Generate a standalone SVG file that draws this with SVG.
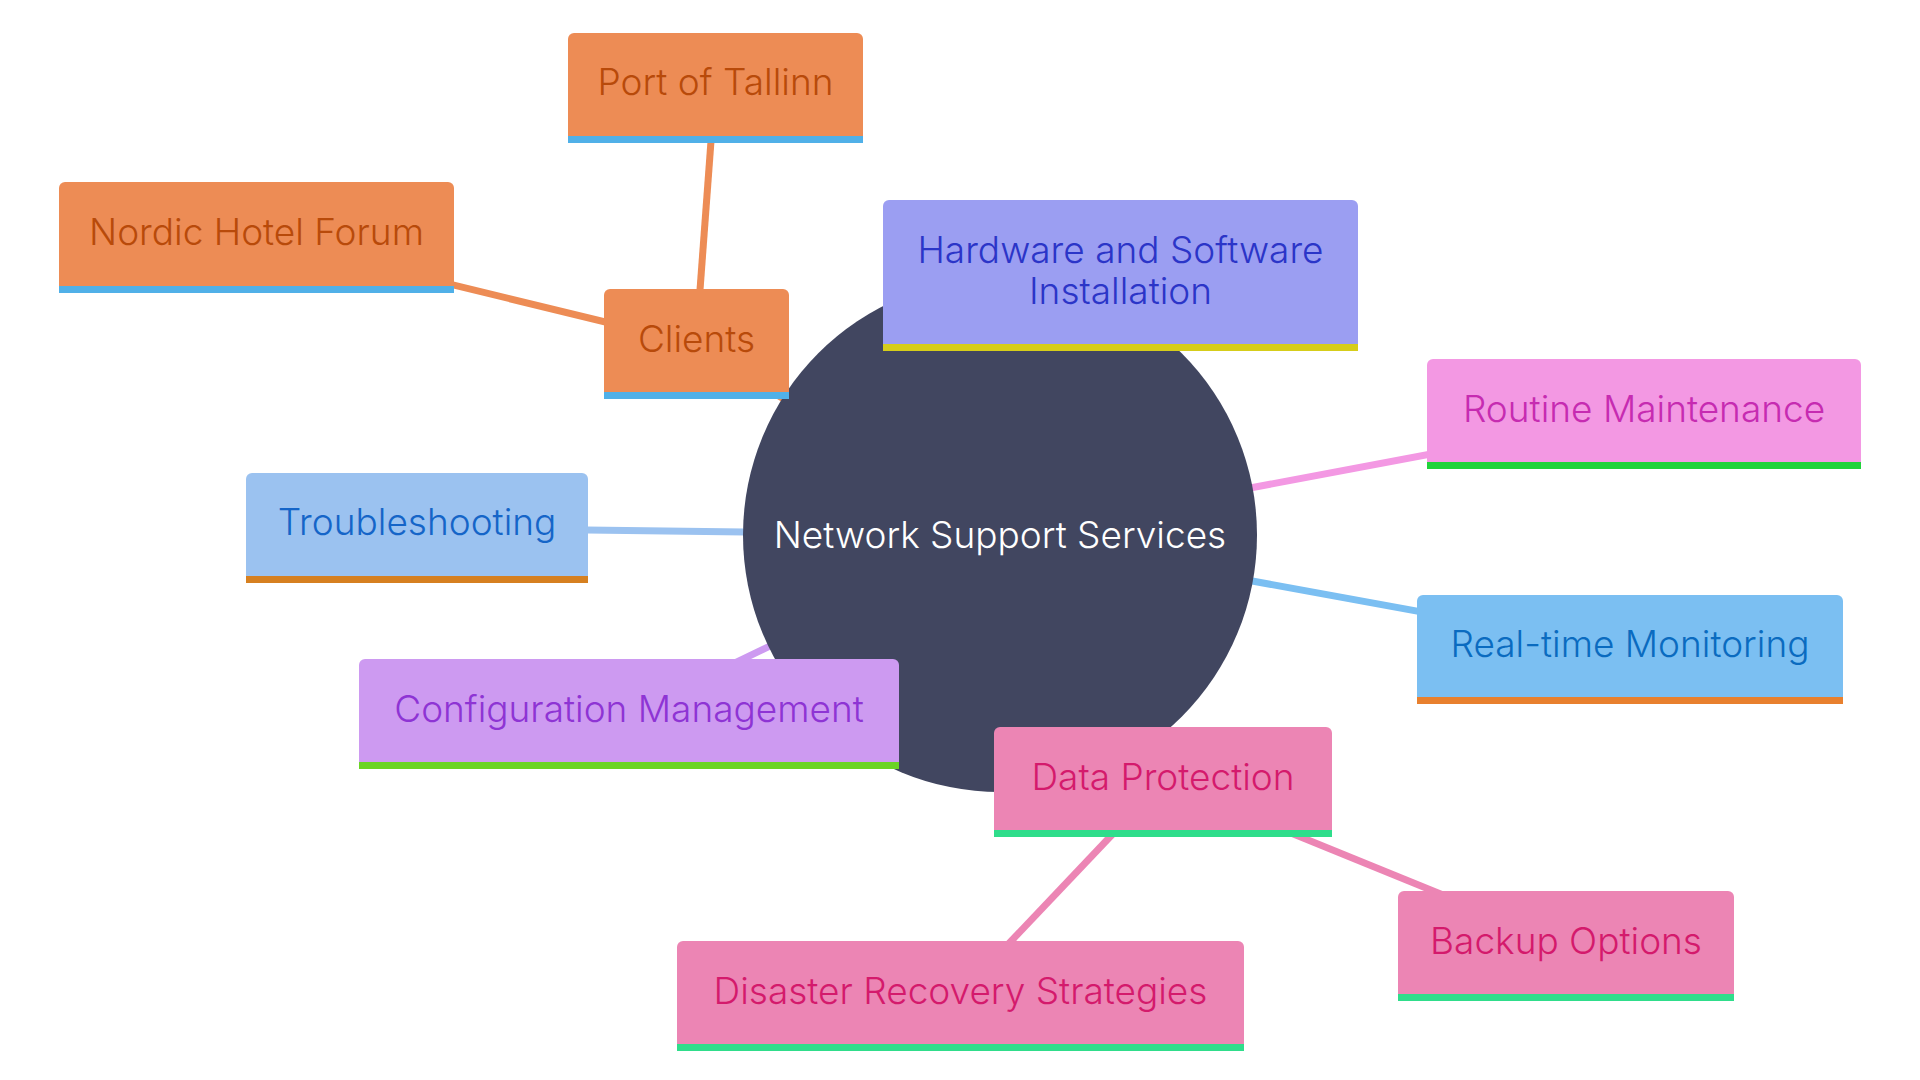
<svg xmlns="http://www.w3.org/2000/svg" width="1920" height="1080" viewBox="0 0 1920 1080">
<style>
text{font-family:Inter,"Noto Sans","Liberation Sans",sans-serif;font-size:37px;font-weight:300;text-anchor:middle}
.edge{fill:none;stroke-width:7;stroke-linecap:butt}
.orange .box{fill:#ED8C55}.orange .bar{fill:#50B0E8}.orange text{fill:#B84A0A}
.hw .box{fill:#9B9EF2}.hw .bar{fill:#D6CD1A}.hw text{fill:#2B35C8}
.rm .box{fill:#F398E3}.rm .bar{fill:#20D33A}.rm text{fill:#C62BB1}
.ts .box{fill:#9BC2F0}.ts .bar{fill:#D68020}.ts text{fill:#1565C8}
.rt .box{fill:#7BBFF2}.rt .bar{fill:#E8802E}.rt text{fill:#0A6BC0}
.cm .box{fill:#CD9AF1}.cm .bar{fill:#6BD425}.cm text{fill:#8E34D4}
.dp .box{fill:#EC85B4}.dp .bar{fill:#2FDD8B}.dp text{fill:#D41A6C}
</style>
<rect width="1920" height="1080" fill="#ffffff"/>
<g id="connectors">
<line class="edge" x1="1000" y1="535" x2="696" y2="344" stroke="#ED8C55"/>
<line class="edge" x1="696" y1="344" x2="715" y2="87" stroke="#ED8C55"/>
<line class="edge" x1="696" y1="344" x2="256" y2="237" stroke="#ED8C55"/>
<line class="edge" x1="1000" y1="535" x2="1120" y2="272" stroke="#9B9EF2"/>
<line class="edge" x1="1000" y1="535" x2="1644" y2="414" stroke="#F398E3"/>
<line class="edge" x1="1000" y1="535" x2="417" y2="528" stroke="#9BC2F0"/>
<line class="edge" x1="1000" y1="535" x2="1630" y2="650" stroke="#7BBFF2"/>
<line class="edge" x1="1000" y1="535" x2="629" y2="714" stroke="#CD9AF1"/>
<line class="edge" x1="1000" y1="535" x2="1163" y2="781" stroke="#EC85B4"/>
<line class="edge" x1="1163" y1="781" x2="1566" y2="945" stroke="#EC85B4"/>
<line class="edge" x1="1163" y1="781" x2="960" y2="995" stroke="#EC85B4"/>
</g>
<g id="root">
<circle cx="1000" cy="535" r="257" fill="#414660"/>
<text x="1000" y="548" fill="#ffffff">Network Support Services</text>
</g>
<g id="clients" class="orange">
<path class="box" d="M604 392V295a6 6 0 0 1 6-6H783a6 6 0 0 1 6 6V392Z"/>
<rect class="bar" x="604" y="392" width="185" height="7"/>
<text x="696.5" y="352">Clients</text>
</g>
<g id="port-of-tallinn" class="orange">
<path class="box" d="M568 136V39a6 6 0 0 1 6-6H857a6 6 0 0 1 6 6V136Z"/>
<rect class="bar" x="568" y="136" width="295" height="7"/>
<text x="715.5" y="95">Port of Tallinn</text>
</g>
<g id="nordic-hotel-forum" class="orange">
<path class="box" d="M59 286V188a6 6 0 0 1 6-6H448a6 6 0 0 1 6 6V286Z"/>
<rect class="bar" x="59" y="286" width="395" height="7"/>
<text x="256.5" y="245">Nordic Hotel Forum</text>
</g>
<g id="hardware-software" class="hw">
<path class="box" d="M883 344V206a6 6 0 0 1 6-6H1352a6 6 0 0 1 6 6V344Z"/>
<rect class="bar" x="883" y="344" width="475" height="7"/>
<text x="1120.5" y="263">Hardware and Software</text>
<text x="1120.5" y="304">Installation</text>
</g>
<g id="routine-maintenance" class="rm">
<path class="box" d="M1427 462V365a6 6 0 0 1 6-6H1855a6 6 0 0 1 6 6V462Z"/>
<rect class="bar" x="1427" y="462" width="434" height="7"/>
<text x="1644" y="422">Routine Maintenance</text>
</g>
<g id="troubleshooting" class="ts">
<path class="box" d="M246 576V479a6 6 0 0 1 6-6H582a6 6 0 0 1 6 6V576Z"/>
<rect class="bar" x="246" y="576" width="342" height="7"/>
<text x="417" y="535">Troubleshooting</text>
</g>
<g id="real-time-monitoring" class="rt">
<path class="box" d="M1417 697V601a6 6 0 0 1 6-6H1837a6 6 0 0 1 6 6V697Z"/>
<rect class="bar" x="1417" y="697" width="426" height="7"/>
<text x="1630" y="657">Real-time Monitoring</text>
</g>
<g id="configuration-management" class="cm">
<path class="box" d="M359 762V665a6 6 0 0 1 6-6H893a6 6 0 0 1 6 6V762Z"/>
<rect class="bar" x="359" y="762" width="540" height="7"/>
<text x="629" y="722">Configuration Management</text>
</g>
<g id="data-protection" class="dp">
<path class="box" d="M994 830V733a6 6 0 0 1 6-6H1326a6 6 0 0 1 6 6V830Z"/>
<rect class="bar" x="994" y="830" width="338" height="7"/>
<text x="1163" y="790">Data Protection</text>
</g>
<g id="backup-options" class="dp">
<path class="box" d="M1398 994V897a6 6 0 0 1 6-6H1728a6 6 0 0 1 6 6V994Z"/>
<rect class="bar" x="1398" y="994" width="336" height="7"/>
<text x="1566" y="954">Backup Options</text>
</g>
<g id="disaster-recovery" class="dp">
<path class="box" d="M677 1044V947a6 6 0 0 1 6-6H1238a6 6 0 0 1 6 6V1044Z"/>
<rect class="bar" x="677" y="1044" width="567" height="7"/>
<text x="960.5" y="1004">Disaster Recovery Strategies</text>
</g>
</svg>
